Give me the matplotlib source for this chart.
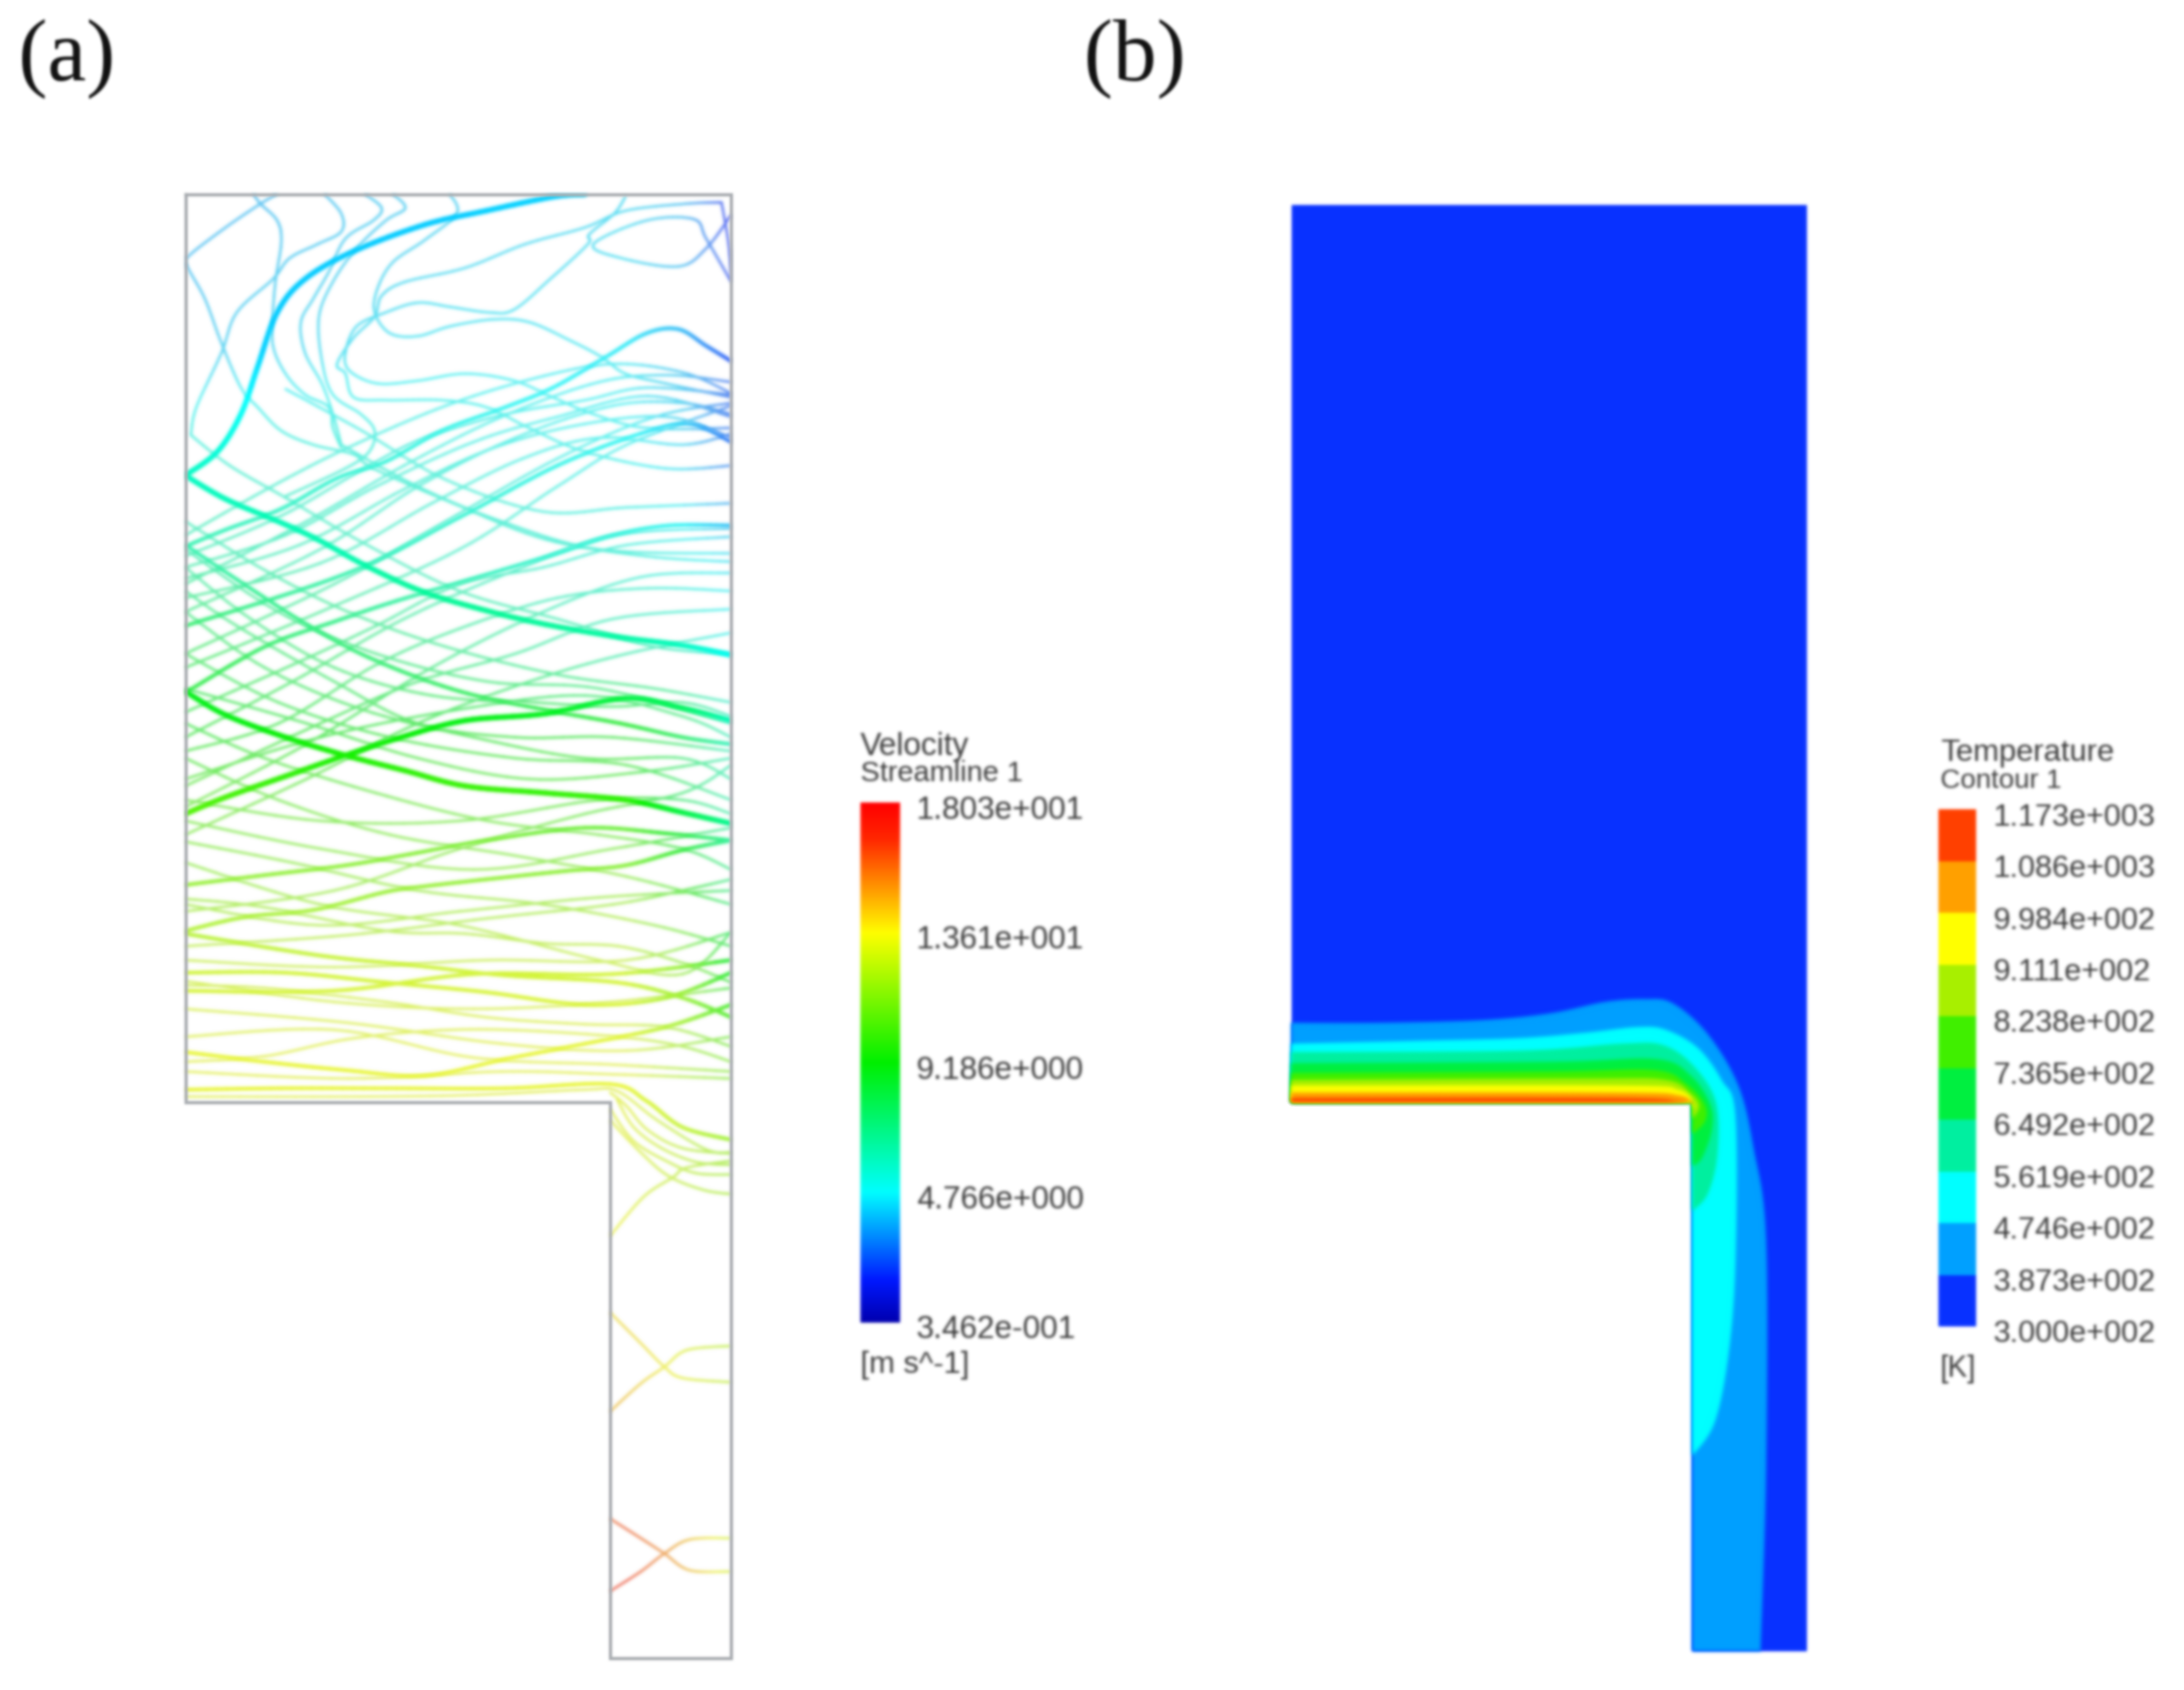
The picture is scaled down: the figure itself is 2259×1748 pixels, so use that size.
import numpy as np
import matplotlib
matplotlib.use('Agg')
import matplotlib.pyplot as plt
from matplotlib.collections import LineCollection
from matplotlib.colors import LinearSegmentedColormap, ListedColormap
from matplotlib.patches import Polygon

plt.rcParams['font.family'] = ['Liberation Sans', 'DejaVu Sans']

# Positions below at 1568x1214, the axes use that range
velocity_labels = ['1.803e+001', '1.361e+001', '9.186e+000', '4.766e+000', '3.462e-001']
temperature_labels = ['1.173e+003', '1.086e+003', '9.984e+002', '9.111e+002', '8.238e+002',
                      '7.365e+002', '6.492e+002', '5.619e+002', '4.746e+002', '3.873e+002', '3.000e+002']
band_colors = ['#0832ff', '#00a0ff', '#00ffff', '#00f0a0', '#00f040',
               '#40f000', '#a8f000', '#ffff00', '#ffa000', '#ff4000']

speed_x = [133, 300, 450, 490, 525]
speed_y = [140, 250, 340, 400, 470, 520, 580, 640, 700, 760, 800, 860, 1000, 1120, 1190]
speed_table = [
    [3.6, 4.0, 4.3, 3.8, 1.6],
    [4.0, 4.6, 4.6, 3.8, 2.2],
    [5.8, 5.5, 5.0, 4.5, 2.8],
    [6.5, 6.0, 5.5, 5.0, 4.5],
    [8.5, 7.5, 6.5, 6.0, 5.0],
    [9.0, 9.0, 9.0, 8.0, 6.0],
    [10.5, 10.5, 10.0, 8.0, 6.5],
    [11.5, 11.5, 11.5, 10.0, 7.5],
    [12.8, 12.8, 12.8, 11.5, 9.0],
    [13.3, 13.3, 13.3, 12.0, 11.0],
    [13.3, 13.3, 13.3, 12.5, 11.5],
    [13.3, 13.3, 13.3, 12.5, 12.0],
    [14.5, 14.5, 14.5, 13.5, 12.5],
    [16.8, 16.8, 16.8, 15.0, 13.0],
    [16.8, 16.8, 16.8, 15.0, 13.0],
]

thick_lines = [
    [(133, 342), (156, 325), (173, 298), (185, 264), (199, 225), (219, 201), (254, 181), (305, 162), (349, 152), (397, 142), (420, 140)],
    [(133, 342), (162, 359), (202, 376), (228, 388), (265, 408), (305, 426), (349, 439), (392, 449), (444, 458), (490, 464), (525, 471)],
    [(133, 497), (162, 514), (205, 530), (248, 543), (291, 554), (334, 565), (392, 570), (449, 575), (490, 584), (525, 592)],
    [(133, 585), (162, 573), (205, 558), (248, 543), (288, 530), (334, 518), (392, 513), (449, 502), (490, 509), (525, 518)],
]
medium_lines = [
    [(133, 393), (162, 381), (202, 366), (242, 344), (277, 332), (317, 310), (363, 293), (397, 279), (435, 257), (464, 240), (487, 237), (507, 249), (525, 260)],
    [(133, 450), (250, 412), (330, 372), (400, 335), (460, 312), (495, 305), (525, 318)],
    [(133, 498), (190, 465), (240, 447), (285, 432), (350, 413), (400, 398), (440, 385), (480, 378), (525, 378)],
    [(133, 636), (190, 629), (248, 622), (294, 614), (349, 604), (420, 595), (478, 599), (525, 604)],
    [(133, 669), (176, 659), (225, 654), (277, 641), (305, 637), (349, 632), (406, 626), (449, 622), (490, 611), (525, 604)],
    [(133, 671), (205, 683), (248, 689), (300, 694), (363, 701), (443, 706), (490, 717), (525, 731)],
    [(133, 699), (205, 699), (277, 706), (349, 713), (420, 722), (478, 717), (525, 699)],
    [(133, 756), (190, 763), (248, 769), (305, 773), (363, 761), (420, 750), (478, 738), (525, 722)],
    [(133, 783), (202, 782), (277, 782), (363, 782), (438, 779), (464, 791), (490, 810), (525, 819)],
    [(133, 392), (175, 420), (222, 450), (270, 475), (330, 497), (390, 510), (445, 520), (490, 530), (525, 535)],
    [(133, 712), (240, 712), (340, 700), (440, 700), (525, 690)],
]
thin_lines = [
    [(182, 140), (187, 147), (199, 159), (202, 174), (198, 201), (196, 225), (196, 249), (205, 269), (219, 284), (236, 293), (239, 308), (245, 322)],
    [(199, 140), (187, 147), (162, 164), (136, 184), (134, 191), (147, 215), (159, 247), (173, 279), (185, 293), (202, 310), (225, 320), (254, 327), (268, 337), (323, 361), (392, 388), (464, 400), (525, 404)],
    [(233, 140), (245, 154), (245, 167), (228, 176), (208, 186), (196, 201), (170, 225), (159, 254), (141, 293), (137, 313)],
    [(262, 140), (274, 150), (268, 159), (248, 172), (236, 196), (225, 215), (216, 232), (219, 254), (231, 276), (239, 298), (245, 320)],
    [(282, 140), (291, 150), (277, 159), (256, 179), (239, 203), (229, 228), (231, 259), (239, 284), (259, 298), (269, 310), (265, 325), (248, 337), (205, 357)],
    [(323, 140), (328, 154), (305, 173), (282, 189), (271, 208), (269, 225), (280, 240), (300, 242), (323, 235), (354, 230), (380, 232), (409, 245), (432, 257), (449, 269), (478, 276), (525, 286)],
    [(449, 142), (441, 154), (423, 169), (422, 176), (395, 201), (369, 223), (351, 225), (323, 221), (300, 218), (277, 225), (256, 235), (248, 254), (251, 267), (271, 276), (300, 274), (334, 269), (369, 274), (397, 286), (426, 298), (464, 308), (525, 308)],
    [(518, 146), (492, 147), (449, 152), (420, 164), (377, 176), (334, 193), (291, 203), (274, 213), (269, 228), (254, 243), (242, 262), (248, 269), (254, 286), (277, 288), (317, 288), (349, 293), (380, 308), (420, 325), (478, 337), (525, 335)],
    [(525, 203), (507, 172), (498, 158), (464, 159), (426, 176), (446, 186), (487, 192), (507, 179), (525, 155)],
    [(518, 146), (523, 175), (525, 200)],
    [(133, 400), (202, 371), (265, 335), (305, 315), (363, 298), (420, 288), (464, 279), (525, 284)],
    [(133, 408), (205, 385), (270, 350), (340, 318), (400, 300), (465, 285), (525, 300)],
    [(133, 416), (215, 392), (290, 352), (355, 322), (420, 305), (480, 300), (525, 315)],
    [(133, 430), (230, 405), (310, 362), (375, 330), (430, 315), (490, 320), (525, 312)],
    [(133, 385), (195, 350), (250, 322), (320, 292), (385, 272), (440, 262), (490, 268), (525, 283)],
    [(133, 420), (220, 375), (290, 335), (360, 300), (430, 275), (480, 270), (525, 275)],
    [(133, 440), (230, 395), (300, 350), (370, 315), (440, 292), (490, 290), (525, 298)],
    [(133, 470), (240, 420), (320, 375), (400, 330), (470, 300), (525, 290)],
    [(133, 375), (190, 410), (250, 440), (320, 465), (400, 485), (470, 495), (525, 505)],
    [(133, 395), (200, 440), (270, 470), (350, 490), (430, 495), (525, 520)],
    [(137, 313), (165, 335), (205, 358), (260, 390), (330, 425), (400, 445), (470, 465), (525, 470)],
    [(205, 280), (260, 310), (320, 345), (390, 368), (450, 365), (525, 362)],
    [(245, 320), (300, 350), (360, 375), (430, 395), (525, 398)],
    [(133, 530), (210, 490), (290, 445), (370, 410), (440, 385), (525, 380)],
    [(133, 580), (220, 535), (310, 480), (390, 440), (460, 415), (525, 412)],
    [(133, 512), (210, 478), (270, 450), (330, 420), (390, 408), (450, 392), (525, 386)],
    [(133, 540), (200, 520), (270, 478), (330, 452), (400, 430), (465, 423), (525, 425)],
    [(133, 565), (230, 520), (300, 490), (370, 470), (440, 445), (525, 438)],
    [(133, 600), (220, 560), (300, 520), (380, 490), (450, 470), (525, 455)],
    [(133, 480), (230, 440), (330, 395), (400, 350), (450, 320), (525, 292)],
    [(133, 408), (180, 445), (240, 480), (310, 500), (385, 505), (440, 508), (490, 505), (525, 515)],
    [(133, 425), (170, 450), (240, 490), (300, 520), (370, 530), (440, 530), (525, 540)],
    [(133, 440), (190, 480), (260, 510), (340, 530), (420, 545), (490, 545), (525, 560)],
    [(133, 470), (200, 505), (280, 530), (370, 545), (450, 550), (525, 575)],
    [(133, 495), (220, 520), (300, 545), (380, 560), (460, 555), (525, 545)],
    [(133, 560), (230, 530), (330, 510), (420, 500), (490, 515), (525, 530)],
    [(133, 575), (230, 590), (330, 590), (430, 575), (490, 575), (525, 585)],
    [(133, 590), (230, 610), (340, 625), (440, 610), (525, 595)],
    [(133, 520), (190, 545), (270, 570), (350, 590), (430, 600), (490, 610), (525, 625)],
    [(133, 545), (200, 575), (280, 600), (370, 615), (450, 630), (525, 650)],
    [(133, 605), (210, 620), (300, 640), (390, 650), (470, 665), (525, 680)],
    [(133, 620), (230, 650), (330, 665), (430, 690), (490, 700), (525, 670)],
    [(133, 655), (240, 640), (330, 610), (420, 585), (490, 570), (525, 550)],
    [(133, 680), (250, 672), (350, 660), (440, 650), (490, 640), (525, 632)],
    [(133, 646), (190, 652), (277, 669), (334, 671), (392, 678), (444, 680), (490, 692), (525, 706)],
    [(133, 650), (230, 665), (330, 655), (430, 645), (525, 640)],
    [(133, 690), (240, 695), (350, 690), (450, 690), (525, 670)],
    [(133, 705), (240, 720), (340, 725), (440, 720), (525, 710)],
    [(133, 725), (250, 735), (360, 750), (450, 755), (525, 745)],
    [(133, 745), (240, 740), (340, 760), (440, 765), (525, 770)],
    [(133, 770), (250, 775), (360, 770), (440, 772), (525, 775)],
    [(133, 708), (190, 710), (277, 720), (349, 731), (420, 736), (478, 738), (525, 752)],
    [(133, 763), (190, 759), (248, 747), (305, 741), (363, 740), (444, 745), (490, 752), (525, 763)],
    [(133, 788), (248, 788), (334, 787), (420, 783), (443, 784), (472, 805), (507, 826), (525, 828)],
    [(438, 785), (450, 795), (465, 812), (490, 825), (525, 829)],
    [(443, 790), (455, 810), (475, 825), (500, 835), (525, 837)],
    [(438, 797), (455, 820), (480, 835), (500, 843), (525, 844)],
    [(438, 805), (460, 828), (480, 845), (505, 855), (525, 858)],
    [(438, 888), (462, 860), (483, 846), (493, 839), (525, 834)],
    [(438, 943), (460, 965), (477, 982), (490, 990), (524, 993)],
    [(438, 1014), (460, 994), (477, 982), (493, 970), (524, 967)],
    [(438, 1091), (460, 1105), (477, 1116), (495, 1128), (524, 1129)],
    [(438, 1143), (460, 1129), (477, 1116), (495, 1106), (524, 1105)],
]

# Temperature band edges, outermost first
edge_387 = [(927, 735), (991, 735), (1065, 733), (1114, 728), (1152, 720), (1181, 718), (1201, 721), (1226, 743), (1248, 780), (1259, 825), (1268, 891), (1268, 1054), (1264, 1186)]
edge_475 = [(927, 750), (1015, 748), (1090, 746), (1139, 742), (1176, 738), (1196, 740), (1219, 753), (1236, 776), (1246, 802), (1246, 907), (1241, 973), (1231, 1022), (1215, 1046)]
edge_562 = [(927, 756), (1090, 755), (1164, 750), (1194, 751), (1216, 766), (1232, 792), (1233, 830), (1226, 858), (1215, 870)]
edge_649 = [(927, 764), (1114, 763), (1189, 761), (1214, 773), (1228, 794), (1229, 812), (1222, 832), (1215, 838)]
edge_736 = [(927, 771), (1114, 770), (1188, 769), (1211, 779), (1224, 794), (1224, 806), (1215, 815)]
edge_824 = [(927, 776), (1139, 775), (1196, 776), (1214, 786), (1220, 795), (1215, 804)]
edge_911 = [(927, 780), (1164, 780), (1205, 783), (1216, 793), (1215, 796)]
edge_998 = [(927, 785), (1160, 785), (1205, 787), (1215, 793)]
edge_1086 = [(927, 789), (1160, 789), (1205, 791), (1215, 793)]

velocity_cmap = LinearSegmentedColormap.from_list('velocity', [
    (0.0, '#0000b0'), (0.08, '#0018ff'), (0.25, '#00ffff'), (0.5, '#00f000'),
    (0.75, '#ffff00'), (0.93, '#ff2800'), (1.0, '#ff0000')])


def blur(sigma):
    # gaussian blur for the soft look of the scan, alpha weighted so edges keep their colour
    def run(img, dpi):
        pad = int(3 * sigma) + 1
        out = np.pad(img, ((pad, pad), (pad, pad), (0, 0)))
        out[..., :3] *= out[..., 3:]
        offsets = np.arange(-pad, pad + 1)
        weights = np.exp(-offsets ** 2 / (2 * sigma ** 2))
        weights /= weights.sum()
        for axis in (0, 1):
            out = sum(w * np.roll(out, k, axis) for k, w in zip(offsets, weights))
        alpha = np.maximum(out[..., 3:], 1e-4)
        out[..., :3] = np.clip(out[..., :3] / alpha, 0, 1)
        return out, -pad, -pad
    return run


def smooth(points, n=10):
    # Catmull-Rom curve through the points
    pts = np.array(points, dtype=float)
    pts = np.vstack([pts[0], pts, pts[-1]])
    t = np.linspace(0, 1, n, endpoint=False)[:, None]
    parts = []
    for i in range(1, len(pts) - 2):
        p0, p1, p2, p3 = pts[i - 1], pts[i], pts[i + 1], pts[i + 2]
        parts.append(0.5 * (2 * p1 + (p2 - p0) * t + (2 * p0 - 5 * p1 + 4 * p2 - p3) * t ** 2
                            + (3 * p1 - p0 - 3 * p2 + p3) * t ** 3))
    parts.append(pts[-2][None, :])
    return np.vstack(parts)


def speed_at(x, y):
    rows = np.array([np.interp(y, speed_y, col) for col in np.array(speed_table).T])
    return np.array([np.interp(xi, speed_x, rows[:, i]) for i, xi in enumerate(x)])


def draw_streams(ax, lines, width, fade, clip):
    segs, cols = [], []
    for line in lines:
        curve = smooth(line)
        mid = (curve[:-1] + curve[1:]) / 2
        rgb = velocity_cmap((speed_at(mid[:, 0], mid[:, 1]) - 0.3462) / (18.03 - 0.3462))[:, :3]
        rgb = (1 - fade) * rgb + fade * np.array([0.84, 0.87, 0.88])
        segs.extend(np.stack([curve[:-1], curve[1:]], axis=1))
        cols.extend(rgb)
    lc = LineCollection(segs, colors=cols, linewidths=width, capstyle='round')
    ax.add_collection(lc)
    lc.set_clip_path(clip)
    lc.set_agg_filter(blur(1.7))


fig = plt.figure(figsize=(22.59, 17.49), dpi=100)
ax = fig.add_axes([0, 0, 1, 1])
ax.axis('off')

# panel a
outline_x = [133, 525, 525, 438, 438, 133, 133]
outline_y = [140, 140, 1191, 1191, 792, 792, 140]
clip = Polygon(np.column_stack([outline_x, outline_y]), closed=True, transform=ax.transData)
draw_streams(ax, thin_lines, 1.7, 0.42, clip)
draw_streams(ax, medium_lines, 2.8, 0.25, clip)
draw_streams(ax, thick_lines, 4.0, 0.0, clip)
frame, = ax.plot(outline_x, outline_y, color='#a8acb0', lw=2.4, solid_joinstyle='miter')
frame.set_agg_filter(blur(1.2))

grad = np.linspace(1, 0, 256)[:, None]
bar_a = ax.imshow(grad, cmap=velocity_cmap, aspect='auto', extent=(618, 646, 950, 577))
bar_a.set_agg_filter(blur(1.6))

# panel b
ax.fill([927, 1297, 1297, 1215, 1215, 927], [148, 148, 1186, 1186, 792, 792],
        color=band_colors[0], lw=0, zorder=2)[0].set_agg_filter(blur(1.6))
band_edges = [edge_387, edge_475, edge_562, edge_649, edge_736, edge_824, edge_911, edge_998, edge_1086]
for edge, col in zip(band_edges, band_colors[1:]):
    curve = smooth(edge)
    xs = list(curve[:, 0]) + [1215, 1215, 927]
    ys = list(curve[:, 1]) + [curve[-1, 1], 792, 792]
    ax.fill(xs, ys, color=col, lw=0, zorder=3)[0].set_agg_filter(blur(2.0))

bar_b = ax.imshow(np.arange(10)[:, None], cmap=ListedColormap(band_colors), aspect='auto',
                  origin='lower', extent=(1392, 1419, 953, 582))
bar_b.set_agg_filter(blur(1.6))

ax.set_xlim(0, 1568)
ax.set_ylim(1214, 0)

text_color = '#3a3a3a'
texts = []
for x, y, s, size in [(618, 536, 'Velocity', 23.5), (618, 555, 'Streamline 1', 21.5), (618, 980, '[m s^-1]', 23),
                      (1393, 541, 'Temperature', 23), (1393, 561, 'Contour 1', 20.5), (1393, 983, '[K]', 22)]:
    texts.append(ax.text(x, y, s, fontsize=size, color=text_color, va='center'))
for y, s in zip(np.linspace(582, 955, 5), velocity_labels):
    texts.append(ax.text(658, y, s, fontsize=23.5, color=text_color, va='center'))
for y, s in zip(np.linspace(587, 958, 11), temperature_labels):
    texts.append(ax.text(1431, y, s, fontsize=22.8, color=text_color, va='center'))
for t in texts:
    t.set_agg_filter(blur(1.5))

for x, s in [(13, '(a)'), (778, '(b)')]:
    label = ax.text(x, 42, s, fontsize=65, family='Liberation Serif', color='#111111', va='center')
    label.set_agg_filter(blur(1.3))

fig.savefig('out.png', dpi=100, facecolor='white')
plt.close(fig)
